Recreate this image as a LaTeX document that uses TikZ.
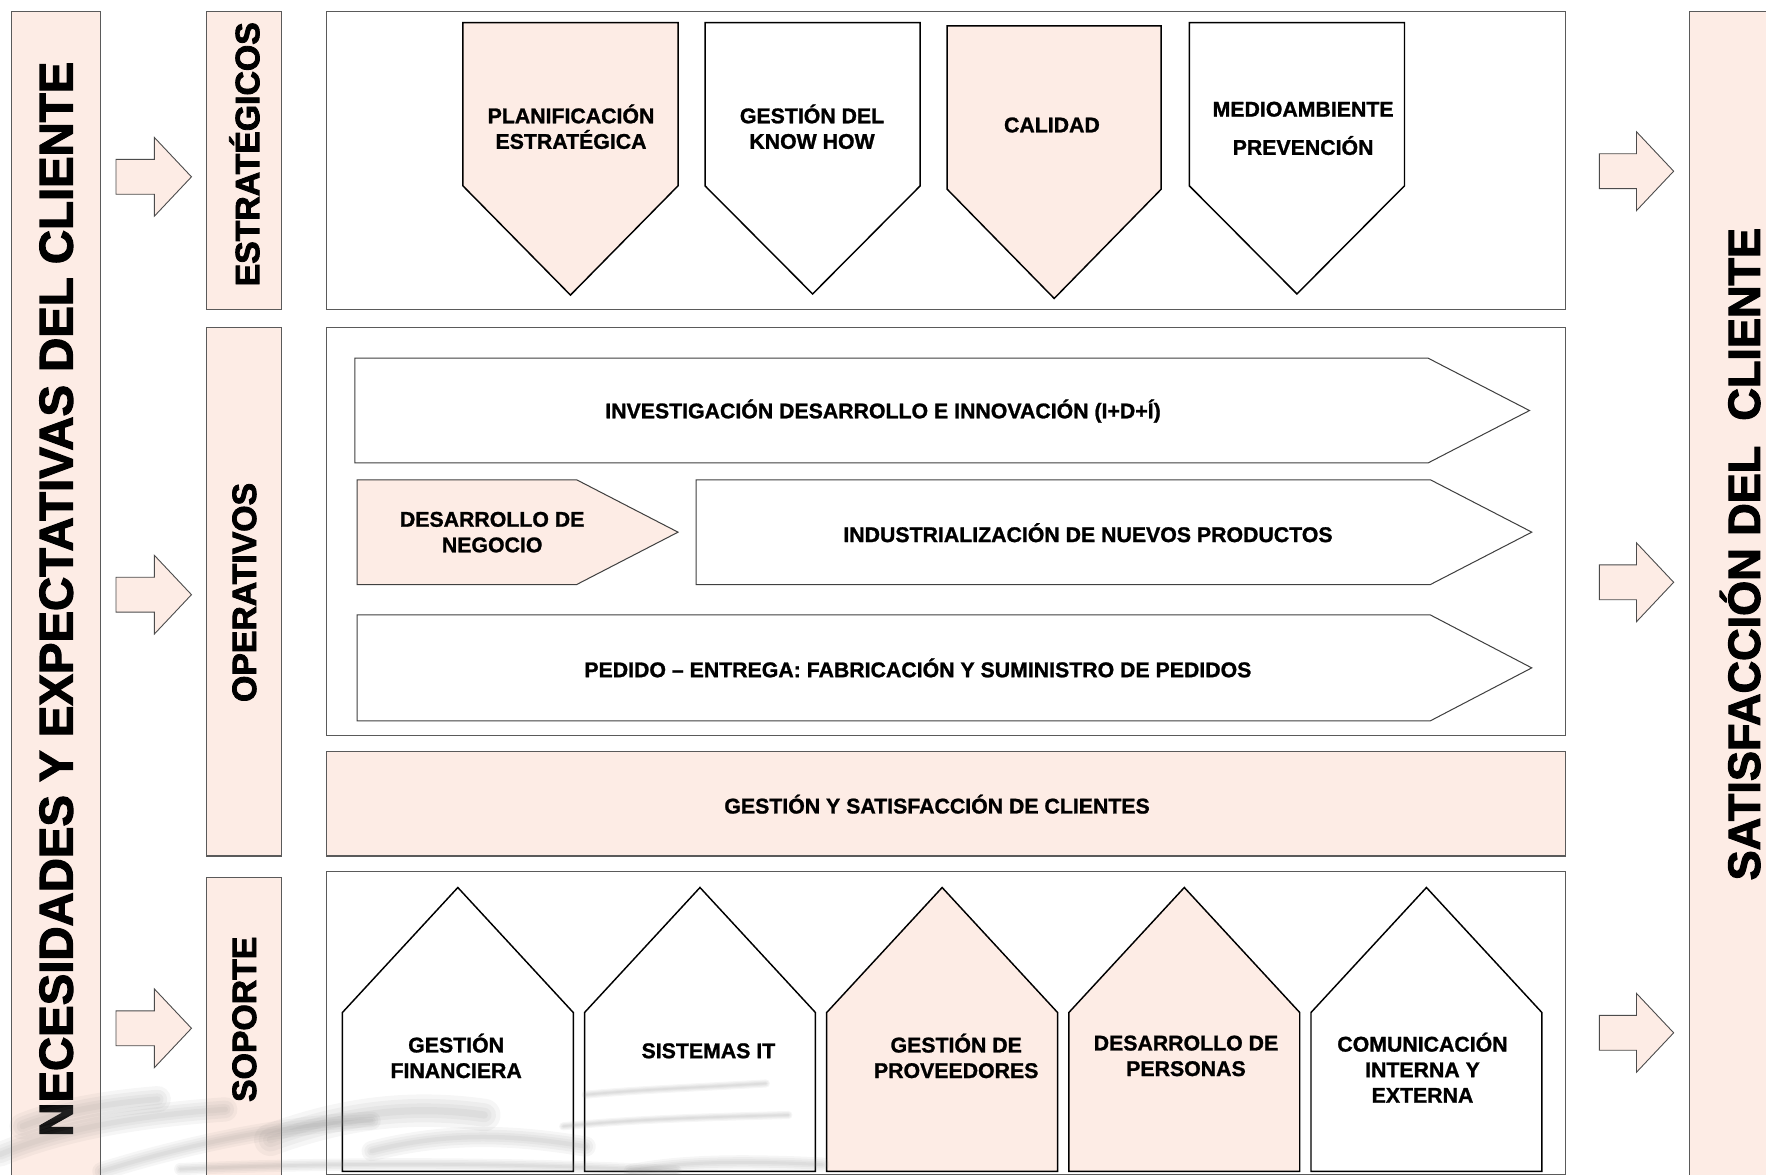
\documentclass[tikz,border=0pt]{standalone}
\usepackage{fontspec}
\setmainfont{Liberation Sans}
\newfontfamily\lblfont{Liberation Sans Bold}[FakeBold=1.2]
\newfontfamily\heavyfont{Liberation Sans Bold}[FakeBold=2.5]
\definecolor{pk}{RGB}{253,236,229}
\definecolor{fr}{RGB}{90,90,90}
\tikzset{
  sidebox/.style={draw=fr, line width=1pt, fill=pk},
  frame/.style={draw=fr, line width=1pt},
  shp/.style={draw=black, line width=1.3pt},
  oparrow/.style={draw=black!75, line width=0.9pt},
  blockarrow/.style={draw=black!70, line width=0.8pt, fill=pk},
  lbl/.style={font=\fontsize{18.9}{22.7}\selectfont\lblfont, align=center, inner sep=0pt},
  biglbl/.style={font=\fontsize{42}{46}\selectfont\heavyfont, rotate=90, inner sep=0pt},
  sidelbl/.style={font=\fontsize{30}{34}\selectfont\heavyfont, rotate=90, inner sep=0pt},
  smudge/.style={line cap=round, line join=round, draw=black!50, opacity=0.07}
}
\newcommand{\softstroke}[2]{%
  \draw[smudge, line width=#1*1.8pt] #2;
  \draw[smudge, line width=#1*1.3pt] #2;
  \draw[smudge, line width=#1*0.8pt] #2;
  \draw[smudge, line width=#1*0.4pt] #2;
}
\begin{document}
\begin{tikzpicture}[x=1pt,y=-1pt]
\useasboundingbox (0,0) rectangle (1568,1043);
\fill[white] (0,0) rectangle (1568,1043);

% outer columns
\draw[sidebox] (10,10) rectangle (89,1060);
\node[biglbl] (nec) at (50,532) {NECESIDADES Y EXPECTATIVAS DEL CLIENTE};
\draw[sidebox] (1500,10) rectangle (1580,1060);
\node[biglbl,font=\fontsize{40}{44}\selectfont\heavyfont] (sat) at (1545,492) {SATISFACCIÓN DEL \ CLIENTE};

% left block arrows
\foreach \cy/\n in {157/la1,528/la2,913/la3}{
  \draw[blockarrow] (103,\cy-15.5) -- (137,\cy-15.5) -- (137,\cy-35) -- (170,\cy) -- (137,\cy+35) -- (137,\cy+15.5) -- (103,\cy+15.5) -- cycle;
}
% right block arrows
\foreach \cy/\n in {152/ra1,517/ra2,917/ra3}{
  \draw[blockarrow] (1420,\cy-15.5) -- (1453,\cy-15.5) -- (1453,\cy-35) -- (1486,\cy) -- (1453,\cy+35) -- (1453,\cy+15.5) -- (1420,\cy+15.5) -- cycle;
}

% side labels
\draw[sidebox] (183,10) rectangle (250,275);
\node[sidelbl] (est) at (217,137) {ESTRATÉGICOS};
\draw[sidebox] (183,291) rectangle (250,760);
\node[sidelbl] (ope) at (217,526) {OPERATIVOS};
\draw[sidebox] (183,779) rectangle (250,1060);
\node[sidelbl] (sop) at (217,905) {SOPORTE};

% frames
\draw[frame] (290,10) rectangle (1390,275);
\draw[frame] (290,291) rectangle (1390,653);
\draw[frame, fill=pk] (290,667) rectangle (1390,760);
\node[lbl] (gsc) at (832,714) {GESTIÓN Y SATISFACCIÓN DE CLIENTES};
\draw[frame] (290,774) rectangle (1390,1043);

% strategic pentagons
\draw[shp, fill=pk] (411,20) -- (602,20) -- (602,165) -- (506.5,262) -- (411,165) -- cycle;
\node[lbl] (plan) at (507,112.5) {PLANIFICACIÓN\\ESTRATÉGICA};
\draw[shp, fill=white] (626,20) -- (817,20) -- (817,165) -- (721.5,261) -- (626,165) -- cycle;
\node[lbl] (know) at (721,112.5) {GESTIÓN DEL\\KNOW HOW};
\draw[shp, fill=pk] (841,23) -- (1031,23) -- (1031,168) -- (936,265) -- (841,168) -- cycle;
\node[lbl] (cal) at (934,111) {CALIDAD};
\draw[shp, fill=white] (1056,20) -- (1247,20) -- (1247,165) -- (1151.5,261) -- (1056,165) -- cycle;
\node[lbl, font=\fontsize{18.9}{34}\selectfont\lblfont] (med) at (1157,114) {MEDIOAMBIENTE\\PREVENCIÓN};

% operative arrows
\draw[oparrow] (315,318) -- (1268,318) -- (1358,364.5) -- (1268,411) -- (315,411) -- cycle;
\node[lbl] (idi) at (784,365) {INVESTIGACIÓN DESARROLLO E INNOVACIÓN (I+D+Í)};
\draw[oparrow, fill=pk] (317,426) -- (512,426) -- (602,472.5) -- (512,519) -- (317,519) -- cycle;
\node[lbl] (neg) at (437,472.5) {DESARROLLO DE\\NEGOCIO};
\draw[oparrow] (618,426) -- (1270,426) -- (1360,472.5) -- (1270,519) -- (618,519) -- cycle;
\node[lbl] (ind) at (966,473) {INDUSTRIALIZACIÓN DE NUEVOS PRODUCTOS};
\draw[oparrow] (317,546) -- (1270,546) -- (1360,593) -- (1270,640) -- (317,640) -- cycle;
\node[lbl] (ped) at (815,593) {PEDIDO – ENTREGA: FABRICACIÓN Y SUMINISTRO DE PEDIDOS};

% support houses
\foreach \xl/\f in {304/white,519/white,734/pk,949/pk,1164/white}{
  \draw[shp, fill=\f] (\xl,1040) -- (\xl,899) -- (\xl+102.5,788) -- (\xl+205,899) -- (\xl+205,1040) -- cycle;
}

% faint background sketch (bottom left)
\begin{scope}
\clip (0,945) rectangle (740,1043);
\softstroke{12}{(0,1025) .. controls (60,1000) and (130,990) .. (200,985)}
\softstroke{9}{(90,1040) .. controls (180,1012) and (260,998) .. (330,995)}
\softstroke{16}{(240,1012) .. controls (300,990) and (360,980) .. (430,990)}
\softstroke{10}{(330,1022) .. controls (400,1004) and (460,1008) .. (520,1018)}
\softstroke{6}{(160,1038) .. controls (300,1032) and (450,1032) .. (600,1040)}
\softstroke{4}{(520,972) .. controls (560,968) and (610,966) .. (680,962)}
\softstroke{4}{(500,1000) .. controls (560,994) and (620,992) .. (700,990)}
\softstroke{7}{(560,1040) .. controls (600,1032) and (650,1030) .. (730,1034)}
\softstroke{13}{(20,1000) .. controls (50,988) and (90,980) .. (140,976)}
\end{scope}

\node[lbl] (fin) at (405,937.5) {GESTIÓN\\FINANCIERA};
\node[lbl] (sis) at (629,933) {SISTEMAS IT};
\node[lbl] (prov) at (849,937.5) {GESTIÓN DE\\PROVEEDORES};
\node[lbl] (pers) at (1053,937.5) {DESARROLLO DE\\PERSONAS};
\node[lbl] (com) at (1263,948) {COMUNICACIÓN\\INTERNA Y\\EXTERNA};
\end{tikzpicture}
\end{document}
